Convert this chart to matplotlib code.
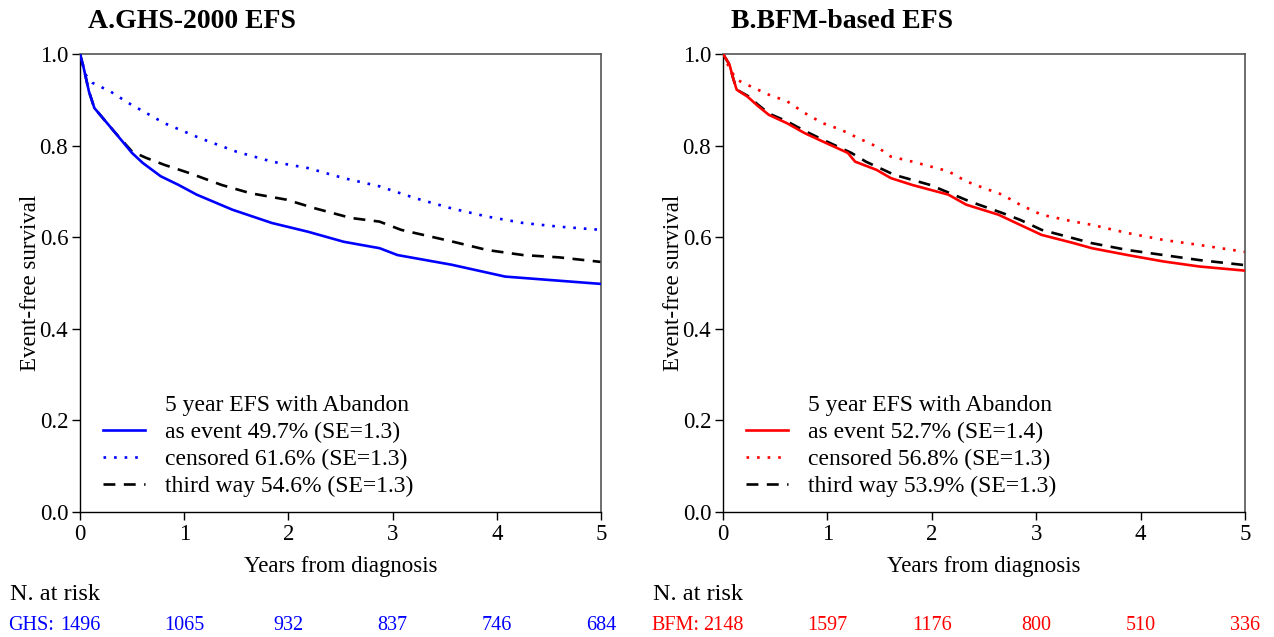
import matplotlib
matplotlib.use("Agg")
import matplotlib.pyplot as plt
from matplotlib.lines import Line2D
from matplotlib.transforms import blended_transform_factory

plt.rcParams['font.family'] = ['Liberation Serif', 'DejaVu Serif']

# ---- Data ----
# Panel A: GHS-2000
ghs_event_t = [0, 0.034, 0.086, 0.138, 0.327, 0.499, 0.603, 0.775, 0.947, 1.119, 1.463, 1.842,
               2.187, 2.531, 2.875, 3.047, 3.564, 4.08, 4.597, 5.0]
ghs_event_s = [1.0, 0.971, 0.918, 0.882, 0.831, 0.784, 0.762, 0.733, 0.714, 0.693, 0.660, 0.631,
               0.612, 0.590, 0.576, 0.561, 0.540, 0.514, 0.505, 0.498]

ghs_cens_t = [0, 0.052, 0.12, 0.293, 0.465, 0.637, 0.809, 1.154, 1.498, 1.842, 2.187, 2.531,
              2.875, 3.22, 3.564, 3.908, 4.253, 4.597, 5.0]
ghs_cens_s = [1.0, 0.955, 0.937, 0.918, 0.893, 0.871, 0.849, 0.816, 0.787, 0.765, 0.751, 0.729,
              0.711, 0.685, 0.663, 0.645, 0.631, 0.623, 0.616]

ghs_third_t = [0, 0.034, 0.086, 0.138, 0.327, 0.499, 0.637, 0.809, 1.05, 1.36, 1.636, 1.98,
               2.256, 2.6, 2.875, 3.082, 3.564, 3.908, 4.253, 4.597, 5.0]
ghs_third_s = [1.0, 0.971, 0.918, 0.882, 0.831, 0.787, 0.773, 0.758, 0.740, 0.714, 0.696, 0.682,
               0.663, 0.642, 0.634, 0.616, 0.591, 0.572, 0.561, 0.556, 0.546]

# Panel B: BFM-based
bfm_event_t = [0, 0.062, 0.096, 0.131, 0.234, 0.337, 0.44, 0.612, 0.784, 0.955, 1.196, 1.265,
               1.471, 1.608, 1.814, 2.158, 2.33, 2.64, 2.845, 3.052, 3.361, 3.533, 3.876, 4.22,
               4.564, 5.0]
bfm_event_s = [1.0, 0.977, 0.948, 0.922, 0.907, 0.886, 0.867, 0.849, 0.827, 0.809, 0.784, 0.765,
               0.747, 0.729, 0.714, 0.693, 0.671, 0.649, 0.627, 0.605, 0.587, 0.576, 0.561, 0.547,
               0.536, 0.527]

bfm_cens_t = [0, 0.062, 0.131, 0.268, 0.44, 0.612, 0.784, 0.955, 1.127, 1.299, 1.471, 1.608,
              1.814, 2.158, 2.33, 2.502, 2.674, 2.845, 3.052, 3.361, 3.533, 3.876, 4.22, 4.564, 5.0]
bfm_cens_s = [1.0, 0.969, 0.944, 0.929, 0.911, 0.897, 0.871, 0.849, 0.835, 0.816, 0.798, 0.776,
              0.765, 0.744, 0.722, 0.707, 0.693, 0.671, 0.649, 0.634, 0.627, 0.609, 0.594, 0.583,
              0.568]

bfm_third_t = [0, 0.062, 0.096, 0.131, 0.234, 0.337, 0.44, 0.612, 0.784, 0.955, 1.23, 1.368,
               1.643, 1.986, 2.364, 2.674, 2.845, 3.052, 3.533, 3.876, 4.22, 4.564, 5.0]
bfm_third_s = [1.0, 0.977, 0.948, 0.922, 0.909, 0.889, 0.870, 0.853, 0.832, 0.813, 0.784, 0.765,
               0.736, 0.714, 0.678, 0.653, 0.638, 0.616, 0.587, 0.572, 0.561, 0.550, 0.539]

risk_times = [0, 1, 2, 3, 4, 5]
ghs_risk = [1496, 1065, 932, 837, 746, 684]
bfm_risk = [2148, 1597, 1176, 800, 510, 336]

titles = ["A.GHS-2000 EFS", "B.BFM-based EFS"]
legend_title = "5 year EFS with Abandon"
ghs_labels = ["as event 49.7% (SE=1.3)", "censored 61.6% (SE=1.3)", "third way 54.6% (SE=1.3)"]
bfm_labels = ["as event 52.7% (SE=1.4)", "censored 56.8% (SE=1.3)", "third way 53.9% (SE=1.3)"]

FS = 16.5
W, H = 1274, 637
fig = plt.figure(figsize=(W / 100, H / 100), dpi=100)

panels = [
    dict(left=80, right=601, color='blue', group='GHS:', risk=ghs_risk, labels=ghs_labels,
         curves=[(ghs_event_t, ghs_event_s), (ghs_cens_t, ghs_cens_s), (ghs_third_t, ghs_third_s)]),
    dict(left=723, right=1245, color='red', group='BFM:', risk=bfm_risk, labels=bfm_labels,
         curves=[(bfm_event_t, bfm_event_s), (bfm_cens_t, bfm_cens_s), (bfm_third_t, bfm_third_s)]),
]

top_px, bot_px = 54, 512
for i, p in enumerate(panels):
    wpx = p['right'] - p['left']
    ax = fig.add_axes([p['left'] / W, 1 - bot_px / H, wpx / W, (bot_px - top_px) / H])
    c = p['color']
    (t1, s1), (t2, s2), (t3, s3) = p['curves']
    lw = 1.9
    l3, = ax.plot(t3, s3, color='black', lw=lw, dashes=(4.5, 3.2), zorder=2)
    l2, = ax.plot(t2, s2, color=c, lw=lw, dashes=(1, 3.0), zorder=2)
    l1, = ax.plot(t1, s1, color=c, lw=lw, zorder=3)
    ax.set_xlim(0, 5)
    ax.set_ylim(0, 1)
    ax.set_xticks([0, 1, 2, 3, 4, 5])
    ax.set_yticks([0, 0.2, 0.4, 0.6, 0.8, 1.0])
    ax.set_yticklabels(["0.0", "0.2", "0.4", "0.6", "0.8", "1.0"])
    ax.tick_params(direction='out', length=5.5, width=1.0, labelsize=FS, pad=3, color='black')
    for s in ['left', 'bottom']:
        ax.spines[s].set_color('black')
        ax.spines[s].set_linewidth(1.0)
    for s in ['top', 'right']:
        ax.spines[s].set_color('#555555')
        ax.spines[s].set_linewidth(1.2)
    ax.set_xlabel("Years from diagnosis", fontsize=FS, labelpad=8)
    ax.set_ylabel("Event-free survival", fontsize=FS, labelpad=-1)
    ax.text(8 / wpx, 1 + 32 / 458, titles[i], transform=ax.transAxes,
            fontsize=20, fontweight='bold', ha='left', va='center')

    blank = Line2D([], [], alpha=0)
    ax.legend([blank, l1, l2, l3], [legend_title] + p['labels'],
              loc='lower left', bbox_to_anchor=(23 / wpx, 0.032), frameon=False,
              fontsize=17, handlelength=1.78, handletextpad=0.85, labelspacing=0.24,
              borderaxespad=0.0, borderpad=0.0)

    # numbers at risk
    trans = blended_transform_factory(ax.transData, fig.transFigure)
    fig.text((p['left'] - 70) / W, 1 - 594 / H, "N. at risk", fontsize=17.5, ha='left', va='center')
    for tt, n in zip(risk_times, p['risk']):
        ax.text(tt, 1 - 625 / H, str(n), transform=trans, color=c, fontsize=14.5,
                ha='center', va='center', clip_on=False)
    fig.text((p['left'] - 72) / W, 1 - 625 / H, p['group'], color=c, fontsize=14.5,
             ha='left', va='center')

fig.savefig("out.png", dpi=100)
